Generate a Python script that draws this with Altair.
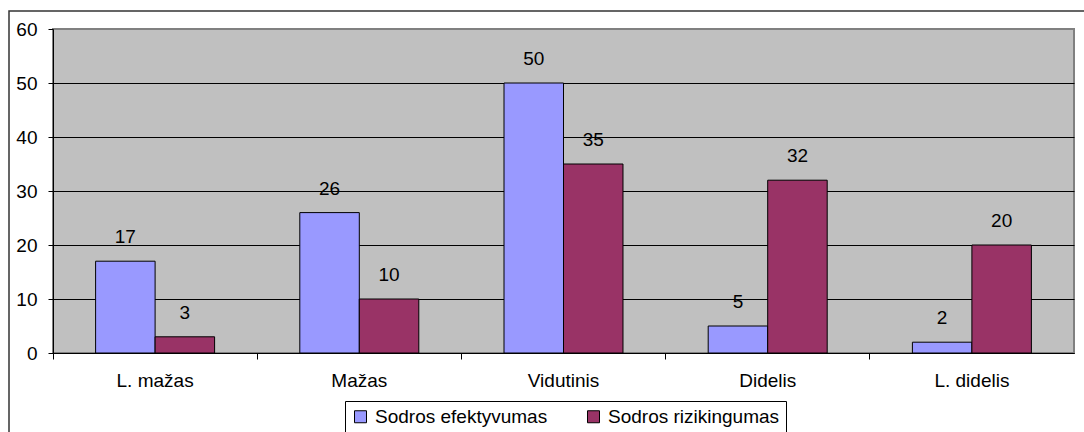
import altair as alt
import pandas as pd

# Categories and the two series drawn as grouped bars
categories = ["L. mažas", "Mažas", "Vidutinis", "Didelis", "L. didelis"]
series = ["Sodros efektyvumas", "Sodros rizikingumas"]
efektyvumas = [17, 26, 50, 5, 2]
rizikingumas = [3, 10, 35, 32, 20]
y_ticks = [0, 10, 20, 30, 40, 50, 60]
colors = ["#9999FF", "#993366"]

FONT = "Liberation Sans"
FS = 19

rows = []
for cat, a, b in zip(categories, efektyvumas, rizikingumas):
    rows.append({"kategorija": cat, "serija": series[0], "reiksme": a})
    rows.append({"kategorija": cat, "serija": series[1], "reiksme": b})
df = pd.DataFrame(rows)

x_scale = alt.Scale(domain=categories, paddingInner=0, paddingOuter=0)
xoff = alt.XOffset("serija:N", sort=series,
                   scale=alt.Scale(domain=series, paddingInner=0, paddingOuter=0.716))
y_enc = alt.Y(
    "reiksme:Q",
    scale=alt.Scale(domain=[0, 60], nice=False),
    axis=alt.Axis(
        values=y_ticks, title=None, grid=True,
        gridColor={"condition": {"test": "datum.value === 60", "value": "#808080"},
                   "value": "black"},
        gridWidth=1, domainColor="black", tickColor="black", tickSize=5,
        labelPadding=11, labelFontSize=FS, labelFont=FONT, labelColor="black",
    ),
)

bars = alt.Chart(df).mark_bar(stroke="black", strokeWidth=1).encode(
    x=alt.X("kategorija:N", scale=x_scale, sort=categories,
            axis=alt.Axis(title=None, labelAngle=0, ticks=False, domainColor="black",
                          labelPadding=18, labelFontSize=FS, labelFont=FONT,
                          labelColor="black", orient="bottom")),
    xOffset=xoff,
    y=y_enc,
    color=alt.Color(
        "serija:N",
        scale=alt.Scale(domain=series, range=colors),
        legend=alt.Legend(
            title=None, orient="none", legendX=292, legendY=372, direction="horizontal",
            strokeColor="black", fillColor="white", padding=6,
            symbolType="square", symbolSize=144, symbolStrokeColor="black",
            symbolStrokeWidth=1, symbolOpacity=1, labelFontSize=FS, labelFont=FONT,
            labelColor="black", labelOffset=5, columnPadding=36, labelLimit=400,
        ),
    ),
)

# Value labels above each bar; this layer also carries the boundary ticks of the x axis
labels = alt.Chart(df).mark_text(dy=-24, fontSize=FS, font=FONT, baseline="middle",
                                 color="black").encode(
    x=alt.X("kategorija:N", scale=x_scale, sort=categories,
            axis=alt.Axis(title=None, labels=False, domain=False, ticks=True,
                          tickColor="black", tickSize=6, bandPosition=0, orient="bottom")),
    xOffset=xoff,
    y=alt.Y("reiksme:Q"),
    text="reiksme:Q",
)

# Outer frame around the whole chart
frame = alt.Chart(pd.DataFrame({"f": [0]})).mark_rect(
    fill=None, stroke="#333333", strokeWidth=1.5
).encode(x=alt.value(-44), x2=alt.value(1045), y=alt.value(-18), y2=alt.value(420))

chart = (
    alt.layer(bars, labels, frame)
    .resolve_axis(x="independent")
    .properties(
        width=1021, height=324,
        autosize=alt.AutoSizeParams(type="none"),
        padding={"left": 53, "top": 29, "right": 10, "bottom": 79},
        background="white",
    )
    .configure_view(fill="#C0C0C0", stroke="#808080", strokeWidth=2)
)

chart.save("out.html", embed_options={"renderer": "svg", "actions": False})
